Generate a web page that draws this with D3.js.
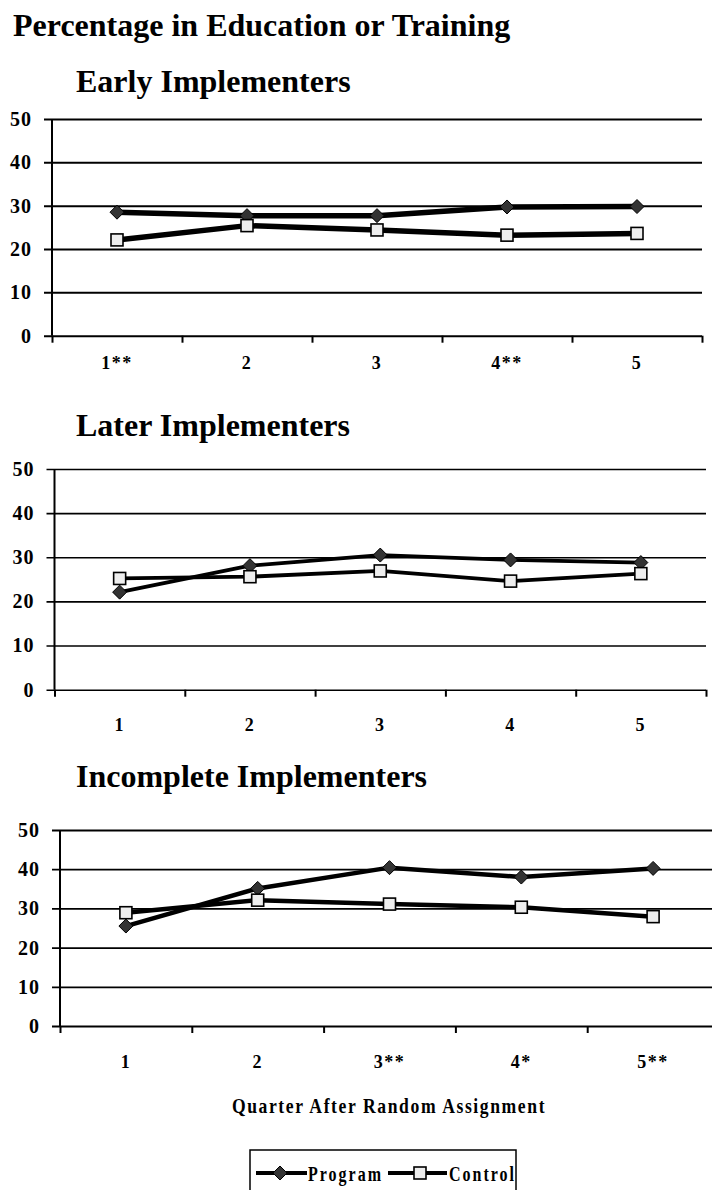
<!DOCTYPE html>
<html>
<head>
<meta charset="utf-8">
<script src="https://cdn.jsdelivr.net/npm/d3@7"></script>
<style>
  html, body { margin: 0; padding: 0; background: #fff; }
  svg { display: block; }
  text { font-family: "Liberation Serif", "Times New Roman", serif; font-weight: bold; fill: #000; }
</style>
</head>
<body>
<svg id="chart" width="712" height="1190"></svg>
<script>
// ---- data ----
const mainTitle = "Percentage in Education or Training";
const xAxisTitle = "Quarter After Random Assignment";
const seriesNames = ["Program", "Control"];
const yTicks = [0, 10, 20, 30, 40, 50];

const earlyLabels = ["1**", "2", "3", "4**", "5"];
const earlyProgram = [28.5, 27.7, 27.7, 29.7, 29.8];
const earlyControl = [22.1, 25.4, 24.4, 23.2, 23.6];

const laterLabels = ["1", "2", "3", "4", "5"];
const laterProgram = [22.1, 28.1, 30.5, 29.4, 28.8];
const laterControl = [25.2, 25.6, 26.9, 24.6, 26.3];

const incompleteLabels = ["1", "2", "3**", "4*", "5**"];
const incompleteProgram = [25.5, 35.1, 40.4, 38.0, 40.2];
const incompleteControl = [28.9, 32.1, 31.1, 30.3, 27.9];

// ---- layout ----
const svg = d3.select("#chart");

svg.append("text").attr("x", 13).attr("y", 36)
  .style("font-size", "32px").text(mainTitle);

const panels = [
  { title: "Early Implementers", tx: 76, ty: 92, x0: 52, x1: 702, yTop: 119, yBot: 335.7,
    labels: earlyLabels, program: earlyProgram, control: earlyControl, lw: 5.5, gw: 2, labY: 369 },
  { title: "Later Implementers", tx: 76, ty: 436, x0: 54.5, x1: 706, yTop: 469, yBot: 689.7,
    labels: laterLabels, program: laterProgram, control: laterControl, lw: 3.8, gw: 1.6, labY: 731 },
  { title: "Incomplete Implementers", tx: 76, ty: 787, x0: 60, x1: 719, yTop: 830, yBot: 1026,
    labels: incompleteLabels, program: incompleteProgram, control: incompleteControl, lw: 4.5, gw: 1.8, labY: 1068 }
];

function diamond(g, cx, cy, r) {
  g.append("path")
    .attr("d", `M${cx},${cy - r}L${cx + r},${cy}L${cx},${cy + r}L${cx - r},${cy}Z`)
    .attr("fill", "#333").attr("stroke", "#000").attr("stroke-width", 1);
}
function square(g, cx, cy, s) {
  g.append("rect").attr("x", cx - s / 2).attr("y", cy - s / 2)
    .attr("width", s).attr("height", s)
    .attr("fill", "#eee").attr("stroke", "#000").attr("stroke-width", 1.6);
}

panels.forEach(p => {
  const g = svg.append("g");
  g.append("text").attr("x", p.tx).attr("y", p.ty).style("font-size", "32px").text(p.title);

  const x = d3.scaleBand().domain(p.labels).range([p.x0, p.x1]).padding(0);
  const y = d3.scaleLinear().domain([0, 50]).range([p.yBot, p.yTop]);
  const w = p.x1 - p.x0;

  // gridlines + y labels
  const ya = g.append("g").attr("transform", `translate(${p.x0 - 8},0)`)
    .call(d3.axisLeft(y).tickValues(yTicks).tickSize(-(w + 8)).tickPadding(12).tickFormat(d3.format("d")));
  ya.select(".domain").remove();
  ya.selectAll(".tick line").attr("stroke", "#000").attr("stroke-width", p.gw);
  ya.selectAll(".tick text")
    .style("font-size", "20px").style("letter-spacing", "1px")
    .style("font-family", '"Liberation Serif", serif').style("font-weight", "bold")
    .attr("fill", "#000");

  // y-axis line
  g.append("line").attr("x1", p.x0).attr("x2", p.x0).attr("y1", y(50)).attr("y2", y(0))
    .attr("stroke", "#000").attr("stroke-width", 2);

  // x boundary ticks
  const xb = d3.scaleLinear().domain([0, p.labels.length]).range([p.x0, p.x1]);
  const xa = g.append("g").attr("transform", `translate(0,${y(0)})`)
    .call(d3.axisBottom(xb).ticks(p.labels.length).tickSize(7).tickFormat(""));
  xa.select(".domain").remove();
  xa.selectAll(".tick line").attr("stroke", "#000").attr("stroke-width", 2);

  // x category labels
  g.selectAll(".xlab").data(p.labels).enter().append("text")
    .attr("x", d => x(d) + x.bandwidth() / 2).attr("y", p.labY)
    .attr("text-anchor", "middle")
    .style("font-size", "18px").style("letter-spacing", "1.5px")
    .text(d => d);

  const cx = (d, i) => x(p.labels[i]) + x.bandwidth() / 2;
  const line = d3.line().x((d, i) => cx(d, i)).y(d => y(d));

  g.append("path").datum(p.program).attr("d", line)
    .attr("fill", "none").attr("stroke", "#000").attr("stroke-width", p.lw).attr("stroke-linejoin", "round");
  g.append("path").datum(p.control).attr("d", line)
    .attr("fill", "none").attr("stroke", "#000").attr("stroke-width", p.lw).attr("stroke-linejoin", "round");

  p.program.forEach((d, i) => diamond(g, cx(d, i), y(d), 7));
  p.control.forEach((d, i) => square(g, cx(d, i), y(d), 12));
});

// x-axis title
svg.append("text")
  .attr("transform", "translate(389,1113) scale(0.8,1)")
  .attr("text-anchor", "middle")
  .style("font-size", "22px").style("letter-spacing", "2px")
  .text(xAxisTitle);

// legend
const lg = svg.append("g");
lg.append("rect").attr("x", 250).attr("y", 1150).attr("width", 266).attr("height", 60)
  .attr("fill", "#fff").attr("stroke", "#000").attr("stroke-width", 1.5);
const legendItems = [
  { name: seriesNames[0], lx1: 256, lx2: 307, mx: 280, tx: 308, marker: "diamond" },
  { name: seriesNames[1], lx1: 388, lx2: 447, mx: 420, tx: 449, marker: "square" }
];
legendItems.forEach(it => {
  lg.append("line").attr("x1", it.lx1).attr("x2", it.lx2).attr("y1", 1173).attr("y2", 1173)
    .attr("stroke", "#000").attr("stroke-width", 4);
  if (it.marker === "diamond") diamond(lg, it.mx, 1173, 7);
  else square(lg, it.mx, 1173, 12);
  lg.append("text").attr("transform", `translate(${it.tx},1181) scale(0.8,1)`)
    .style("font-size", "20px").style("letter-spacing", "2.5px").text(it.name);
});
</script>
</body>
</html>
